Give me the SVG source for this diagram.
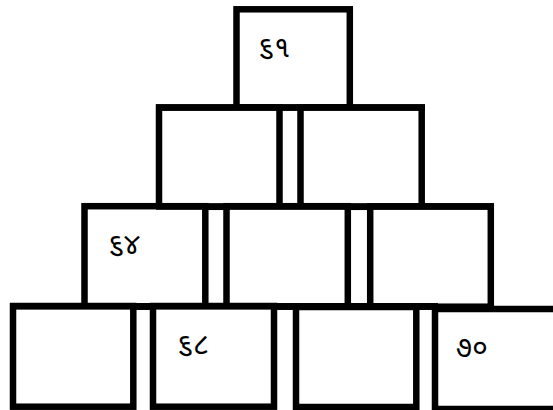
<svg xmlns="http://www.w3.org/2000/svg" width="553" height="410" viewBox="0 0 553 410">
<style>
.box{fill:#fff;stroke:#000;stroke-width:6.5}
.bar{stroke:#000;stroke-width:6.5;fill:none}
.lbl{font-family:"Noto Sans Gujarati","Noto Sans","DejaVu Sans",sans-serif;font-size:29px;fill:#000}
</style>
<rect width="553" height="410" fill="#fff"/>
<g id="n_top"><rect class="box" x="236.5" y="9.3" width="113.3" height="98.2"/><text class="lbl" x="258" y="57">૬૧</text></g>
<g id="n_r2a"><rect class="box" x="159" y="107.5" width="120.5" height="99.3"/></g>
<g id="n_r2b"><rect class="box" x="300.5" y="107.5" width="121.2" height="99.3"/></g>
<g id="n_r3a"><rect class="box" x="84.5" y="206.2" width="120.8" height="100.5"/><text class="lbl" x="108" y="254">૬૪</text></g>
<g id="n_r3b"><rect class="box" x="226.5" y="206.2" width="121.3" height="100.5"/></g>
<g id="n_r3c"><rect class="box" x="370.2" y="206.4" width="120.6" height="100.3"/></g>
<g id="n_r4a"><rect class="box" x="13" y="306" width="120.3" height="100.7"/></g>
<g id="n_r4b"><rect class="box" x="153" y="306" width="121" height="100.7"/><text class="lbl" x="177" y="354">૬૮</text></g>
<g id="n_r4c"><rect class="box" x="296" y="307" width="120.3" height="100"/></g>
<g id="n_r4d"><rect class="box" x="435" y="309" width="125" height="100"/><text class="lbl" x="456" y="357">૭૦</text></g>
<g id="connectors">
<line class="bar" x1="156" y1="107.5" x2="425" y2="107.5"/>
<line class="bar" x1="156" y1="206.6" x2="494" y2="206.6"/>
<line class="bar" x1="10" y1="306.3" x2="438" y2="306.3"/>
</g>
</svg>
